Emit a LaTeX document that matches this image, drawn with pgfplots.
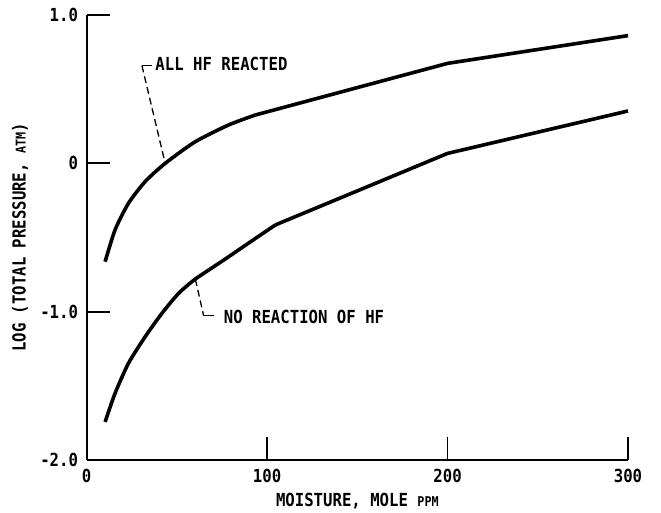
\documentclass[border=0pt]{standalone}
\usepackage{fontspec}
\usepackage{pgfplots}
\pgfplotsset{compat=1.18}
\newfontfamily\lblfont[FakeStretch=0.87]{DejaVu Sans Mono Bold}
\newcommand{\lbl}{\lblfont\fontsize{18}{21}\selectfont}
\newcommand{\sm}[1]{{\fontsize{13.5}{15}\selectfont #1}}

\begin{document}
\begin{tikzpicture}
\path[use as bounding box] (-86.7pt,-52pt) rectangle (574.3pt,460pt);
\begin{axis}[
  at={(0,0)}, anchor=south west,
  scale only axis,
  width=541.3pt, height=445pt,
  xmin=0, xmax=300, ymin=-2, ymax=1,
  axis lines*=left,
  axis line style={line width=1.8pt},
  tick align=inside,
  major tick length=23pt,
  tick style={line width=1.8pt, black},
  xtick={0,100,200,300},
  xticklabels={0,100,200,300},
  ytick={-2,-1,0,1},
  yticklabels={-2.0,-1.0,0,1.0},
  ticklabel style={font=\lbl},
  xticklabel style={anchor=base, yshift=-22.5pt},
  yticklabel style={anchor=east, inner sep=0pt, xshift=-8.5pt},
  xlabel={MOISTURE, MOLE \sm{PPM}},
  ylabel={LOG (TOTAL PRESSURE, \sm{ATM})},
  label style={font=\lbl},
  xlabel style={at={(axis description cs:0.5,-0.092)}, anchor=center},
  ylabel style={at={(axis description cs:-0.1232,0.5)}, anchor=center},
  clip=false,
]
% all HF reacted
\addplot[black, line width=3.6pt, smooth, tension=0.4] coordinates {
  (10.2,-0.663) (15.7,-0.449) (23.1,-0.27) (32.4,-0.123) (43.5,0)
  (60.2,0.146) (78.7,0.259) (93.5,0.326)
};
\addplot[black, line width=3.6pt, line join=round] coordinates {
  (93.5,0.326) (200,0.674) (300,0.861)
};
% no reaction of HF
\addplot[black, line width=3.6pt, smooth, tension=0.4] coordinates {
  (10.2,-1.743) (15.7,-1.551) (23.1,-1.349) (32.4,-1.169) (41.7,-1.011)
  (50.9,-0.877) (60.2,-0.78) (75,-0.66) (89.8,-0.537) (104.6,-0.415)
};
\addplot[black, line width=3.6pt, line join=round] coordinates {
  (104.6,-0.415) (200,0.067) (300,0.353)
};

% leaders
\draw[line width=1.3pt] (axis cs:36.1,0.659) -- (axis cs:30.6,0.659);
\draw[line width=1.3pt, dash pattern=on 7pt off 4pt] (axis cs:30.6,0.659) -- (axis cs:43.5,0);
\node[anchor=west, inner sep=0pt, font=\lbl] at (axis cs:38,0.667) {ALL HF REACTED};

\draw[line width=1.3pt, dash pattern=on 7pt off 4pt] (axis cs:60.2,-0.78) -- (axis cs:64.8,-1.027);
\draw[line width=1.3pt] (axis cs:64.8,-1.027) -- (axis cs:70.4,-1.027);
\node[anchor=west, inner sep=0pt, font=\lbl] at (axis cs:75.9,-1.034) {NO REACTION OF HF};
\end{axis}
\end{tikzpicture}
\end{document}
